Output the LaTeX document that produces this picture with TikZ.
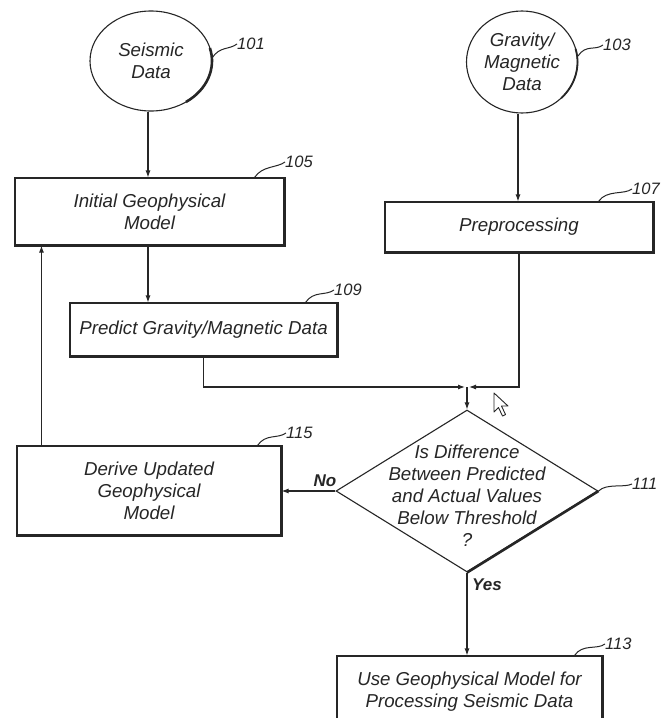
\documentclass[tikz,border=0pt]{standalone}
\usepackage{fontspec}
\setmainfont{Liberation Sans}
\usetikzlibrary{arrows.meta,shapes.geometric}
\definecolor{ink}{gray}{0.15}
\tikzset{
  stroke/.style={draw=ink, line width=1.1pt},
  label/.style={font=\fontsize{18.7}{22}\selectfont\itshape, text=ink, align=center},
  box/.style={stroke, rectangle, inner sep=0pt, label},
  datacircle/.style={stroke, ellipse, inner sep=0pt, label},
  arr/.style={draw=ink, line width=1.1pt, -{Latex[length=7pt,width=5pt]}},
  heavy/.style={draw=ink, line width=2.6pt},
  lead/.style={draw=ink, line width=1pt},
  num/.style={font=\fontsize{16.5}{18}\selectfont\itshape, text=ink, inner sep=0pt, anchor=west},
  answer/.style={font=\fontsize{17}{20}\selectfont\bfseries\itshape, text=ink},
}
\begin{document}
\begin{tikzpicture}[x=1pt,y=-1pt]
  \useasboundingbox (0,0) rectangle (661,718);
  \clip (0,0) rectangle (661,718);
  \fill[white] (0,0) rectangle (661,718);

  % data sources
  \node[datacircle, minimum width=122pt, minimum height=100pt] (c101) at (151,61) {Seismic\\Data};
  \node[datacircle, minimum width=111pt, minimum height=102pt] (c103) at (522,62) {Gravity/\\Magnetic\\Data};
  \draw[heavy] ([shift={(151,61)}]-15:61 and 50) arc[start angle=-15, end angle=55, x radius=61, y radius=50];
  \draw[heavy, line width=1.8pt] ([shift={(522,62)}]-15:55.5 and 51) arc[start angle=-15, end angle=45, x radius=55.5, y radius=51];

  % process boxes
  \node[box, minimum width=269pt, minimum height=67pt] (b105) at (149.5,211.5) {Initial Geophysical\\Model};
  \node[box, minimum width=268pt, minimum height=50pt] (b107) at (519,227) {Preprocessing};
  \node[box, minimum width=267pt, minimum height=53pt] (b109) at (203.5,329.5) {Predict Gravity/Magnetic Data};
  \node[box, minimum width=264pt, minimum height=89pt] (b115) at (149,490.5) {Derive Updated\\Geophysical\\Model};
  \node[box, minimum width=265pt, minimum height=84pt] (b113) at (469.5,698) {};
  \node[label, anchor=north] (t113) at (469.5,668) {Use Geophysical Model for\\Processing Seismic Data};

  % decision
  \node[stroke, diamond, minimum width=262pt, minimum height=162pt, inner sep=0pt] (d111) at (467,491) {};
  \node[label] (t111) at (467,496) {Is Difference\\Between Predicted\\and Actual Values\\Below Threshold\\?};

  % shaded edges
  \foreach \b in {b105,b107,b109,b115} {
    \draw[heavy] (\b.north east) -- (\b.south east) -- (\b.south west);
  }
  \draw[heavy] (b113.north east) -- (b113.south east);
  \draw[heavy] (d111.east) -- (d111.south);

  % flow
  \coordinate (j) at (467,387);
  \draw[arr] (c101.south -| 148,0) -- (148,0 |- b105.north);
  \draw[arr] (c103.south -| 518,0) -- (518,0 |- b107.north);
  \draw[arr] (b105.south -| 148,0) -- (148,0 |- b109.north);
  \draw[arr] (b109.south) |- ([xshift=-2pt]j);
  \draw[arr] (b107.south) |- ([xshift=2pt]j);
  \draw[arr] (j) -- (d111.north);
  \draw[arr] (d111.west) -- (b115.east |- d111.west);
  \draw[arr] (d111.south) -- (d111.south |- b113.north);
  \draw[arr] ([xshift=25pt]b115.north west) -- ([xshift=25pt]b115.north west |- b105.south);

  \node[answer] (no) at (325,481) {No};
  \node[answer] (yes) at (487,585) {Yes};

  % reference numerals
  \node[num] (n101) at (237,44) {101};
  \draw[lead] (212,58) .. controls +(8,-12) and +(-8,6) .. (n101.west);
  \node[num] (n103) at (603,45) {103};
  \draw[lead] (578,56) .. controls +(8,-12) and +(-8,6) .. (n103.west);
  \node[num] (n105) at (285,162) {105};
  \draw[lead] (b105.north east) ++(-30,0) .. controls +(8,-12) and +(-8,6) .. (n105.west);
  \node[num] (n107) at (632,189) {107};
  \draw[lead] (b107.north east) ++(-55,0) .. controls +(8,-12) and +(-8,6) .. (n107.west);
  \node[num] (n109) at (334,290) {109};
  \draw[lead] (b109.north east) ++(-32,0) .. controls +(8,-12) and +(-8,6) .. (n109.west);
  \node[num] (n115) at (286,433) {115};
  \draw[lead] (b115.north east) ++(-24,0) .. controls +(8,-12) and +(-8,6) .. (n115.west);
  \node[num] (n111) at (632,484) {111};
  \draw[lead] (d111.east) .. controls +(8,-8) and +(-8,4) .. (n111.west);
  \node[num] (n113) at (605,644) {113};
  \draw[lead] (b113.north east) ++(-28,0) .. controls +(8,-12) and +(-8,6) .. (n113.west);

  % mouse pointer
  \draw[draw=ink, line width=0.9pt, fill=white, line join=round]
    (494,393) -- ++(0,19) -- ++(4.5,-4.5) -- ++(4,8.5) -- ++(3,-1.5) -- ++(-4,-8.5) -- ++(6.5,0) -- cycle;
\end{tikzpicture}
\end{document}
